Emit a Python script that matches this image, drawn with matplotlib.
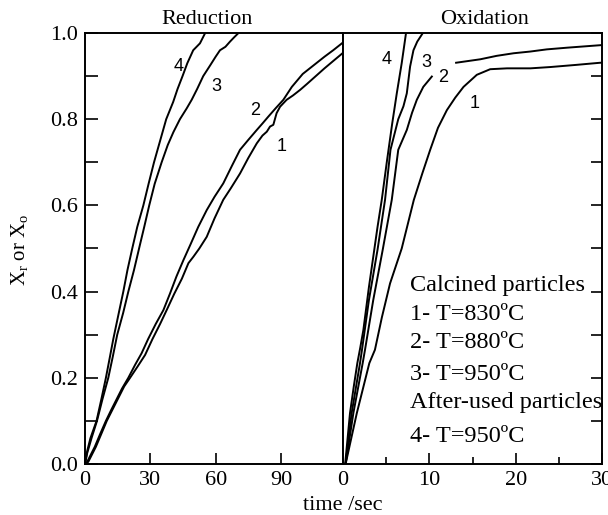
import numpy as np
import matplotlib.pyplot as plt
from matplotlib.ticker import MultipleLocator

plt.rcParams['font.family'] = ['Liberation Serif', 'DejaVu Serif']
plt.rcParams['mathtext.fontset'] = 'custom'
plt.rcParams['mathtext.rm'] = 'Liberation Serif'
plt.rcParams['mathtext.it'] = 'Liberation Serif:italic'

# Reduction (time in sec, conversion)
red1_t = [0, 1.5, 3, 5, 7.5, 10, 12.5, 15, 18, 20.7, 24, 27.6, 31, 34.5, 37.5, 41, 44.5, 47.5,
          49.8, 52.5, 55.9, 59.5, 63.5, 67, 71.2, 75, 78.9, 81.5, 83.5, 85, 86.5, 88, 89.6,
          92.6, 95.5, 98.8, 102, 106, 110, 114, 118.5]
red1_x = [0, 0.005, 0.02, 0.04, 0.07, 0.1, 0.125, 0.15, 0.18, 0.2, 0.225, 0.253, 0.29, 0.325,
          0.357, 0.395, 0.43, 0.466, 0.481, 0.5, 0.527, 0.57, 0.613, 0.64, 0.674, 0.71, 0.744,
          0.762, 0.771, 0.783, 0.787, 0.814, 0.829, 0.845, 0.855, 0.868, 0.882, 0.9, 0.918,
          0.935, 0.954]
red2_t = [0, 1, 3, 4.5, 7, 9.6, 12, 14.5, 17, 19.9, 23, 26, 29, 32.5, 36, 39, 42, 45.2, 48.5,
          52, 55.9, 59.5, 63.5, 67.5, 71.2, 75, 78.9, 81.5, 84.2, 87.5, 91.1, 95, 100, 105,
          110, 114, 118.5]
red2_x = [0, 0.005, 0.025, 0.04, 0.07, 0.1, 0.125, 0.15, 0.175, 0.2, 0.23, 0.257, 0.29, 0.325,
          0.357, 0.395, 0.435, 0.473, 0.51, 0.55, 0.589, 0.62, 0.651, 0.692, 0.729, 0.752,
          0.775, 0.79, 0.806, 0.825, 0.845, 0.875, 0.905, 0.925, 0.945, 0.96, 0.978]
red3_t = [0, 1, 3, 5.5, 8, 10.7, 12.8, 14.8, 17.5, 19.9, 22.5, 25.3, 27.2, 29.5, 32, 35.2, 38,
          40.6, 43.6, 46.7, 49, 51.5, 54.3, 57.5, 60, 62, 64.5, 66.6, 68.5, 70.5]
red3_x = [0, 0.025, 0.06, 0.1, 0.15, 0.2, 0.25, 0.3, 0.35, 0.4, 0.45, 0.51, 0.55, 0.6, 0.65,
          0.7, 0.74, 0.77, 0.8, 0.825, 0.845, 0.87, 0.9, 0.925, 0.945, 0.96, 0.968, 0.98,
          0.99, 1.0]
red4_t = [0, 1, 2.5, 5.3, 7.5, 9.6, 11.5, 13.0, 15.5, 17.6, 19.5, 21.7, 24, 26.8, 29.2, 31.7,
          34.5, 37.3, 40.5, 42.5, 44.8, 47, 49.7, 52.8, 55.2]
red4_x = [0, 0.03, 0.06, 0.1, 0.15, 0.2, 0.25, 0.29, 0.35, 0.4, 0.45, 0.5, 0.55, 0.6, 0.65,
          0.7, 0.75, 0.8, 0.84, 0.87, 0.9, 0.93, 0.96, 0.976, 1.0]

# Oxidation
ox1_t = [0, 0.3, 1.6, 3.05, 3.7, 4.5, 5.45, 6.8, 8.2, 9.2, 10.1, 11.0, 12.03, 13.0, 13.96,
         15.5, 17.05, 19, 21.7, 24, 27, 29.8, 30]
ox1_x = [0, 0, 0.118, 0.234, 0.265, 0.34, 0.419, 0.5, 0.6125, 0.675, 0.729, 0.78, 0.821, 0.85,
         0.875, 0.903, 0.916, 0.918, 0.918, 0.921, 0.926, 0.931, 0.931]
ox2_t = [0, 0.3, 1.2, 2.28, 2.55, 3.5, 4.6, 5.65, 6.4, 7.39, 8.0, 8.55, 9.3, 10.29, np.nan,
         13.1, 14.5, 15.9, 17.8, 19.76, 21.7, 23.6, 26, 28, 30]
ox2_x = [0, 0, 0.118, 0.234, 0.265, 0.38, 0.497, 0.613, 0.729, 0.775, 0.815, 0.845, 0.875,
         0.899, np.nan, 0.931, 0.935, 0.939, 0.947, 0.953, 0.957, 0.962, 0.966, 0.969, 0.972]
ox3_t = [0, 0.3, 1.0, 1.97, 2.2, 3.0, 4.0, 4.87, 5.5, 6.4, 7.0, 7.39, 7.77, 8.16, 8.6, 9.25]
ox3_x = [0, 0, 0.118, 0.234, 0.265, 0.38, 0.497, 0.613, 0.729, 0.8, 0.83, 0.86, 0.922, 0.96,
         0.98, 1.0]
ox4_t = [0, 0.25, 0.81, 1.25, 1.66, 2.0, 2.36, 3.0, 3.5, 4.0, 4.49, 5.07, 5.7, 6.23, 6.8, 7.3]
ox4_x = [0, 0, 0.118, 0.18, 0.234, 0.27, 0.311, 0.41, 0.48, 0.55, 0.613, 0.7, 0.79, 0.86,
         0.93, 1.0]

legend_lines = ['Calcined particles', '1- T=830ºC', '2- T=880ºC', '3- T=950ºC',
                'After-used particles', '4- T=950ºC']

fig = plt.figure(figsize=(6.08, 5.15), dpi=100)
W, H = 608, 515
ax1 = fig.add_axes([85 / W, 1 - 464 / H, 258 / W, 431 / H])
ax2 = fig.add_axes([343 / W, 1 - 464 / H, 259 / W, 431 / H])

lw = 1.4
for t, x in [(red1_t, red1_x), (red2_t, red2_x), (red3_t, red3_x), (red4_t, red4_x)]:
    ax1.plot(t, x, color='black', lw=lw)
for t, x in [(ox1_t, ox1_x), (ox2_t, ox2_x), (ox3_t, ox3_x), (ox4_t, ox4_x)]:
    ax2.plot(t, x, color='black', lw=lw)

lab = dict(fontsize=13, family=['Liberation Sans', 'DejaVu Sans'], ha='center', va='center')
ax1.text(42.9, 0.922, '4', **lab)
ax1.text(60.5, 0.875, '3', **lab)
ax1.text(78, 0.82, '2', **lab)
ax1.text(90.4, 0.736, '1', **lab)
ax2.text(5.1, 0.939, '4', **lab)
ax2.text(9.7, 0.931, '3', **lab)
ax2.text(11.6, 0.897, '2', **lab)
ax2.text(15.2, 0.837, '1', **lab)

ys = [285.7, 315, 342, 374, 402.7, 436]
for s, yp in zip(legend_lines, ys):
    fig.text(410 / W, 1 - yp / H, s, fontsize=17.5, ha='left', va='center')

ax1.set_xlim(0, 118.5)
ax2.set_xlim(0, 30)
for ax in (ax1, ax2):
    ax.set_ylim(0, 1.0)
    for sp in ax.spines.values():
        sp.set_linewidth(1.4)
    ax.tick_params(which='both', direction='in', labelsize=16, width=1.2, pad=5)
    ax.tick_params(which='major', length=8)
    ax.tick_params(which='minor', length=5)

ax1.xaxis.set_major_locator(MultipleLocator(30))
ax1.yaxis.set_major_locator(MultipleLocator(0.2))
ax1.yaxis.set_minor_locator(MultipleLocator(0.1))
ax1.tick_params(axis='y', which='both', length=9)
ax1.yaxis.set_major_formatter(lambda v, p: f'{v:.1f}')

ax2.xaxis.set_major_locator(MultipleLocator(10))
ax2.xaxis.set_minor_locator(MultipleLocator(5))
ax2.yaxis.set_major_locator(MultipleLocator(0.2))
ax2.yaxis.set_minor_locator(MultipleLocator(0.1))
ax2.yaxis.tick_right()
ax2.tick_params(axis='y', which='both', length=8, labelright=False)
ax2.set_xticks([0, 10, 20, 30])

fig.text(207 / W, 1 - 20 / H, 'Reduction', fontsize=16, ha='center', va='center')
fig.text(485 / W, 1 - 20 / H, 'Oxidation', fontsize=16, ha='center', va='center')
fig.text(343 / W, 1 - 505 / H, 'time /sec', fontsize=16, ha='center', va='center')
fig.text(19 / W, 1 - 250 / H, r'X$_\mathrm{r}$ or X$_\mathrm{o}$', fontsize=15,
         rotation=90, ha='center', va='center')

fig.savefig('out.png', dpi=100)
